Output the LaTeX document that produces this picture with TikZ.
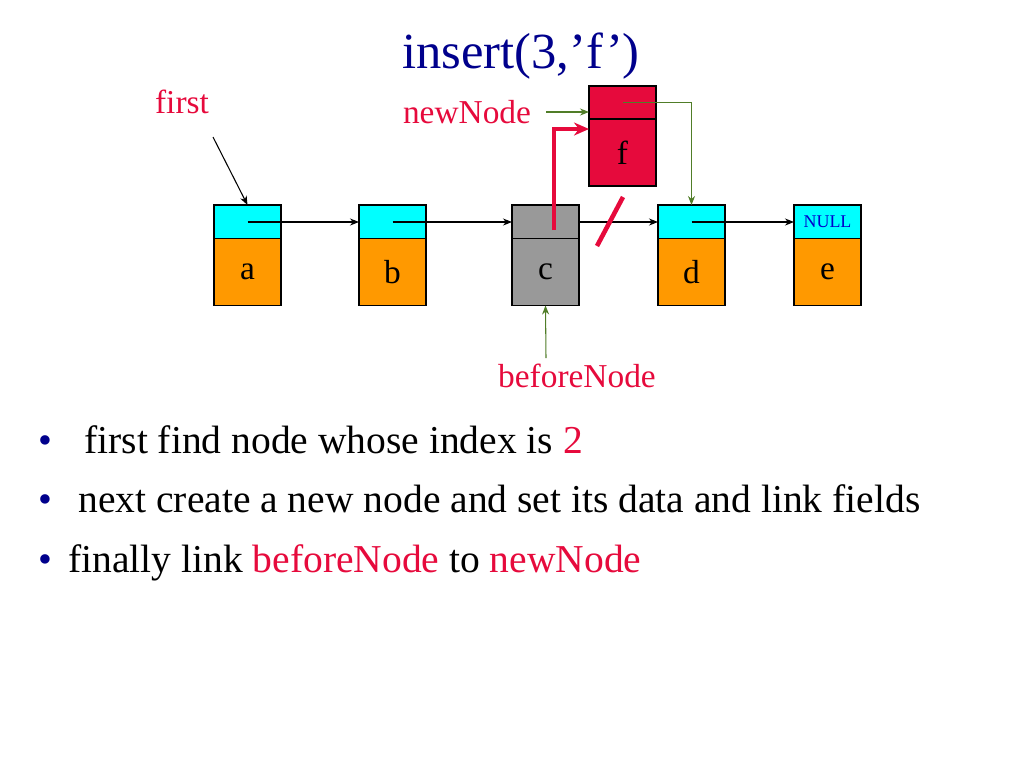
\documentclass[tikz,border=0pt]{standalone}
\usepackage{fontspec}
\setmainfont{Liberation Serif}
\usetikzlibrary{calc,arrows.meta}

\definecolor{titleblue}{RGB}{0,0,140}
\definecolor{hotred}{RGB}{230,10,60}
\definecolor{cellcyan}{RGB}{0,255,255}
\definecolor{cellorange}{RGB}{255,153,0}
\definecolor{cellgray}{RGB}{153,153,153}
\definecolor{linkgreen}{RGB}{80,125,40}

\tikzset{
  linkcell/.style={draw=black, line width=1.1pt, inner sep=0pt, outer sep=0pt,
    minimum width=1.34cm, minimum height=0.68cm},
  datacell/.style={draw=black, line width=1.1pt, inner sep=0pt, outer sep=0pt,
    minimum width=1.34cm, minimum height=1.34cm, font=\fontsize{19}{22}\selectfont},
  ptr/.style={-{Stealth[length=1.8mm,width=1.4mm]}, line width=0.6pt},
  lbl/.style={text=hotred, font=\fontsize{19}{22}\selectfont, inner sep=0pt},
  bul/.style={anchor=base west, inner sep=0pt, font=\fontsize{22.5}{26}\selectfont}
}

\begin{document}
\begin{tikzpicture}[x=0.02cm, y=-0.02cm]
    \useasboundingbox (0,0) rectangle (1024,768);

    % title
    \node[anchor=base west, inner sep=0pt, text=titleblue, font=\fontsize{28.8}{32}\selectfont] (title) at (402,68) {insert(3,’f’)};

    % list cells
    \node[linkcell, fill=cellcyan] (atop) at (247.5,222) {};
    \node[datacell, fill=cellorange] (abot) at (247.5,272) {a};
    \node[linkcell, fill=cellcyan] (btop) at (392.5,222) {};
    \node[datacell, fill=cellorange] (bbot) at (392.5,272) {b};
    \node[linkcell, fill=cellgray] (ctop) at (545.5,222) {};
    \node[datacell, fill=cellgray] (cbot) at (545.5,272) {c};
    \node[linkcell, fill=cellcyan] (dtop) at (691.5,222) {};
    \node[datacell, fill=cellorange] (dbot) at (691.5,272) {d};
    \node[linkcell, fill=cellcyan, text=blue!80!black, font=\fontsize{10.2}{12}\selectfont] (etop) at (827.5,222) {NULL};
    \node[datacell, fill=cellorange] (ebot) at (827.5,272) {e};

    % new cell
    \node[linkcell, fill=hotred, minimum height=0.66cm] (ftop) at (622.5,102.5) {};
    \node[datacell, fill=hotred] (fbot) at (622.5,152.5) {f};

    % labels
    \node[lbl, anchor=base] (first) at (182,113) {first};
    \node[lbl, anchor=base] (newnode) at (467,123) {newNode};
    \node[lbl, anchor=base] (before) at (577,387) {beforeNode};
    \coordinate (firsttail) at (213,137);
    \coordinate (newtail) at (546,112);
    \coordinate (beforetail) at (546,358);

    % links
    \draw[ptr] (firsttail) -- (atop.north);
    \draw[ptr] (atop.center) -- (btop.west);
    \draw[ptr] (btop.center) -- (ctop.west);
    \draw[ptr] (ctop.east) -- (dtop.west);
    \draw[ptr] (dtop.center) -- (etop.west);
    \draw[ptr, linkgreen] (newtail) -- (newtail -| fbot.west);
    \draw[ptr, linkgreen] (ftop.center) -| (dtop.north);
    \draw[ptr, linkgreen] (beforetail) -- (cbot.south);
    \draw[-{Stealth[length=3mm,width=2.6mm]}, hotred, line width=2.6pt] ($(ctop.center)+(8.5,8)$) |- ($(fbot.north west)+(0,10)$);
    \draw[hotred, line width=2.6pt] (597,246) -- (623,197);

    % bullets
    \foreach \yy in {453,512,572}
      \node[bul, text=titleblue] at (38,\yy) {•};
    \node[bul] (line1) at (84,453) {first find node whose index is \textcolor{hotred}{2}};
    \node[bul] (line2) at (78,512) {next create a new node and set its data and link fields};
    \node[bul] (line3) at (68,572) {finally link \textcolor{hotred}{beforeNode} to \textcolor{hotred}{newNode}};
\end{tikzpicture}
\end{document}
